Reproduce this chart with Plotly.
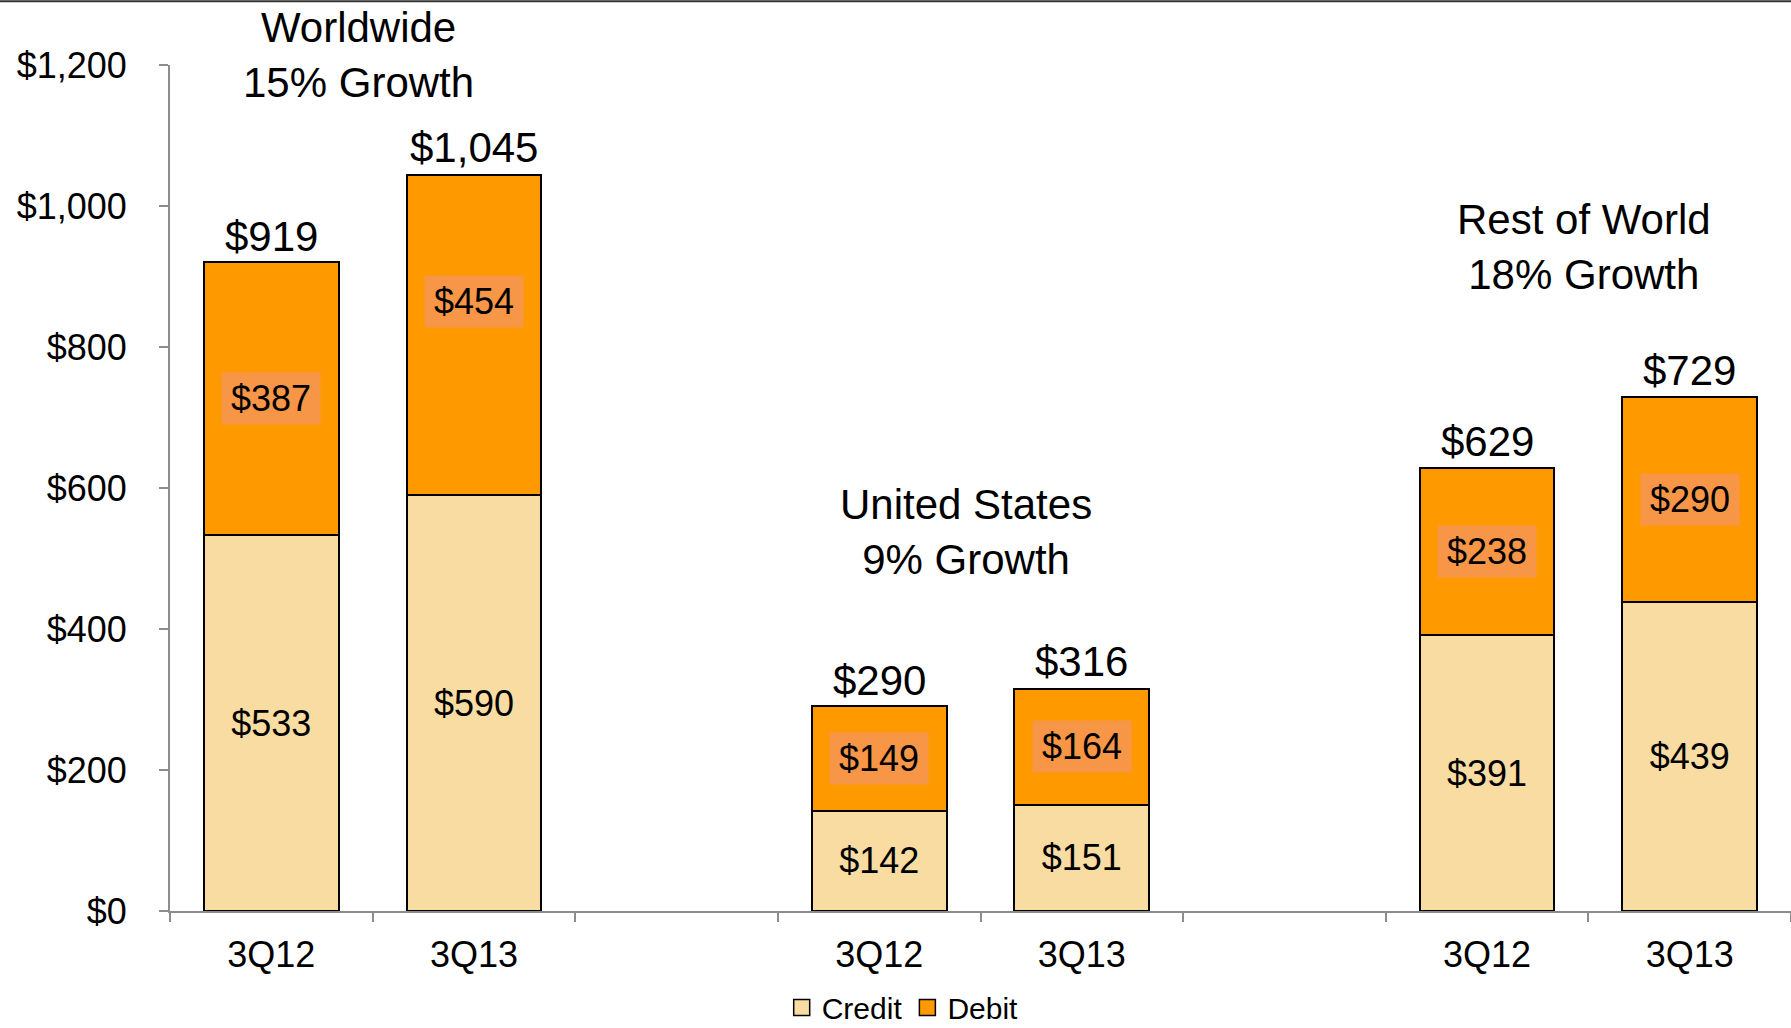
import plotly.graph_objects as go

# Category slots: three groups of two quarters separated by empty slots
slot_labels = ["3Q12", "3Q13", "", "3Q12", "3Q13", "", "3Q12", "3Q13"]
bar_slots = [0, 1, 3, 4, 6, 7]

credit = [533, 590, 142, 151, 391, 439]
debit = [387, 454, 149, 164, 238, 290]
totals = [919, 1045, 290, 316, 629, 729]

group_titles = ["Worldwide<br>15% Growth", "United States<br>9% Growth", "Rest of World<br>18% Growth"]
group_centers = [0.43, 3.43, 6.48]
group_title_y = [1214, 538, 942]

y_ticks = [0, 200, 400, 600, 800, 1000, 1200]
Y_MAX = 1200

CREDIT_COLOR = "#F9DCA2"
DEBIT_COLOR = "#FF9900"
LABEL_BG = "#F79646"
FONT = "Liberation Sans, Arial, sans-serif"

fig = go.Figure()

fig.add_trace(go.Bar(
    x=bar_slots, y=credit, name="Credit", showlegend=False,
    marker=dict(color=CREDIT_COLOR, line=dict(color="#000000", width=2)),
    width=0.665,
    text=[f"${v:,}" for v in credit], textposition="inside",
    insidetextanchor="middle", textangle=0,
    textfont=dict(size=36, color="#000000", family=FONT),
))
fig.add_trace(go.Bar(
    x=bar_slots, y=debit, name="Debit", showlegend=False,
    marker=dict(color=DEBIT_COLOR, line=dict(color="#000000", width=2)),
    width=0.665,
))

# Legend entries drawn as square swatches
for name, color in [("Credit", CREDIT_COLOR), ("Debit", DEBIT_COLOR)]:
    fig.add_trace(go.Scatter(
        x=[None], y=[None], mode="markers", name=name,
        marker=dict(symbol="square", size=16, color=color,
                    line=dict(color="#000000", width=1.5)),
    ))

annotations = []
# Debit values on a shaded label box within the debit segment
debit_label_shift = {1: 34}
for i, (xs, c, d) in enumerate(zip(bar_slots, credit, debit)):
    annotations.append(dict(
        x=xs, y=c + d / 2, xref="x", yref="y", text=f"${d:,}",
        showarrow=False, bgcolor=LABEL_BG, borderpad=5,
        width=88, height=41,
        yshift=debit_label_shift.get(i, 0),
        font=dict(size=36, color="#000000", family=FONT),
    ))
# Totals above each stack
for xs, t in zip(bar_slots, totals):
    annotations.append(dict(
        x=xs, y=t, xref="x", yref="y", text=f"${t:,}",
        showarrow=False, yanchor="bottom", yshift=1,
        font=dict(size=42, color="#000000", family=FONT),
    ))
# Group headings (paper y so headings above the axis range still show)
for gx, gy, gt in zip(group_centers, group_title_y, group_titles):
    annotations.append(dict(
        x=gx, y=gy / Y_MAX, xref="x", yref="paper", text=gt,
        showarrow=False, yanchor="middle",
        font=dict(size=42, color="#000000", family=FONT),
    ))

fig.update_layout(
    barmode="stack",
    width=1791, height=1028,
    margin=dict(l=170, r=0, t=65, b=117, autoexpand=False),
    paper_bgcolor="#FFFFFF", plot_bgcolor="#FFFFFF",
    font=dict(family=FONT, color="#000000"),
    showlegend=True,
    legend=dict(
        orientation="h", x=0.452, xanchor="center", y=-0.114, yanchor="middle",
        font=dict(size=30, family=FONT, color="#000000"),
        traceorder="normal", itemwidth=30,
    ),
    annotations=annotations,
    xaxis=dict(
        range=[-0.5, 7.5],
        tickmode="array",
        tickvals=list(range(len(slot_labels))),
        ticktext=slot_labels,
        ticks="", showgrid=False, zeroline=False,
        showline=True, linecolor="#8C8C8C", linewidth=2,
        tickfont=dict(size=36, family=FONT, color="#000000"),
        ticklabelstandoff=11,
        minor=dict(tickmode="array", tickvals=[i - 0.5 for i in range(9)],
                   ticks="outside", ticklen=9, tickcolor="#8C8C8C", tickwidth=2,
                   showgrid=False),
    ),
    yaxis=dict(
        range=[0, Y_MAX],
        tickmode="array", tickvals=y_ticks,
        tickformat="$,.0f",
        ticks="outside", ticklen=9, tickcolor="#8C8C8C", tickwidth=2,
        showgrid=False, zeroline=False,
        showline=True, linecolor="#8C8C8C", linewidth=2,
        tickfont=dict(size=36, family=FONT, color="#000000"),
        ticklabelstandoff=25,
    ),
    shapes=[dict(
        type="line", xref="paper", yref="paper",
        x0=-0.11, x1=1.0, y0=1.0755, y1=1.0755,
        line=dict(color="#333333", width=2),
    )],
)

fig.write_html("out.html")
